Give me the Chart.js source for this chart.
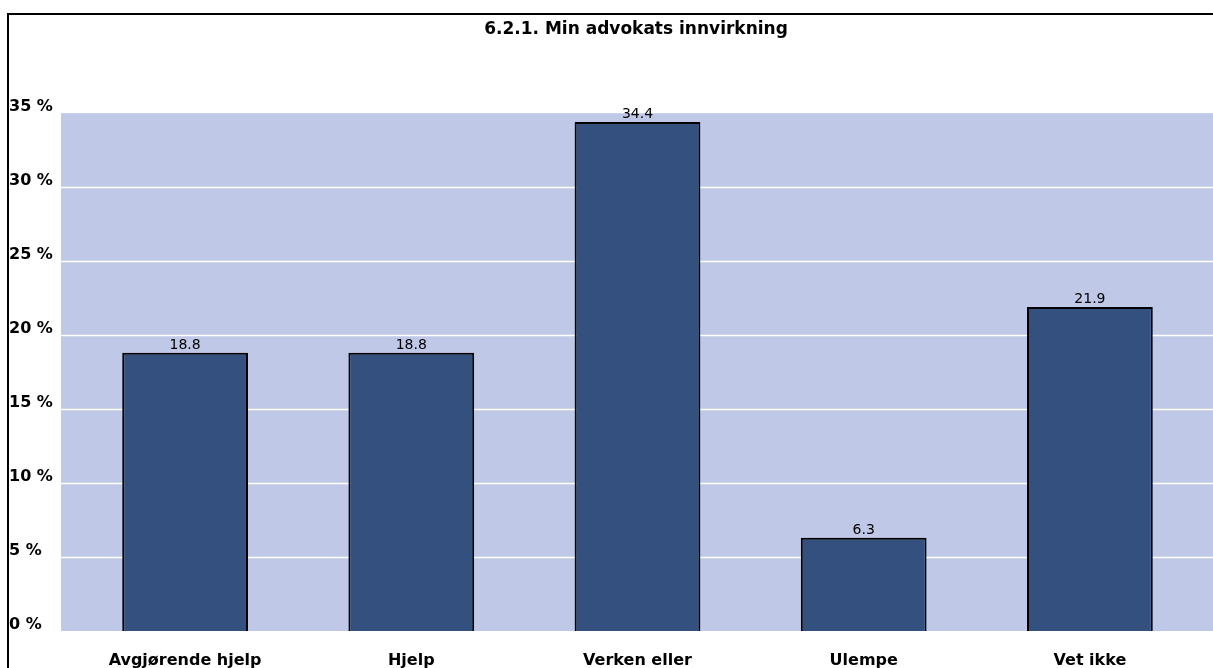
<!DOCTYPE html>
<html>
<head>
<meta charset="utf-8">
<script src="https://cdn.jsdelivr.net/npm/chart.js@4/dist/chart.umd.min.js"></script>
<style>
    html, body { margin: 0; padding: 0; overflow: hidden; background: #fff; }
    #frame {
        position: absolute; left: 7px; top: 13px;
        width: 1254px; height: 680px;
        border-left: 2px solid #000; border-top: 2px solid #000;
    }
</style>
</head>
<body>
<div id="frame"><canvas id="impactChart" width="1254" height="680"></canvas></div>
<script>
const categories = ["Avgjørende hjelp", "Hjelp", "Verken eller", "Ulempe", "Vet ikke"];
const shares = [18.8, 18.8, 34.4, 6.3, 21.9];
const yTicks = [0, 5, 10, 15, 20, 25, 30, 35];
// wide sans to get close to the stretched Excel lettering
const FONT = "'DejaVu Sans', Arial, sans-serif";

document.addEventListener("DOMContentLoaded", function () {
    const ctx = document.getElementById("impactChart").getContext("2d");

    // lavender plot area with white grid lines, a bit wider than the categories
    const plotBackground = {
        id: "plotBackground",
        beforeDatasetsDraw(chart) {
            const { ctx, chartArea, scales: { y } } = chart;
            const left = chartArea.left - 11;
            ctx.save();
            ctx.fillStyle = "#bfc8e6";
            ctx.fillRect(left, chartArea.top, chart.width - left, chartArea.bottom - chartArea.top);
            ctx.strokeStyle = "#ffffff";
            ctx.lineWidth = 1.5;
            yTicks.slice(1, -1).forEach(v => {
                const py = Math.round(y.getPixelForValue(v)) + 0.5;
                ctx.beginPath();
                ctx.moveTo(left, py);
                ctx.lineTo(chart.width, py);
                ctx.stroke();
            });
            ctx.restore();
        }
    };

    // value on top of each bar
    const valueLabels = {
        id: "valueLabels",
        afterDatasetsDraw(chart) {
            const { ctx } = chart;
            const meta = chart.getDatasetMeta(0);
            ctx.save();
            ctx.font = "14px " + FONT;
            ctx.fillStyle = "#000";
            ctx.textAlign = "center";
            ctx.textBaseline = "alphabetic";
            meta.data.forEach((bar, i) => {
                ctx.fillText(shares[i].toFixed(1), bar.x, bar.y - 4);
            });
            ctx.restore();
        }
    };

    new Chart(ctx, {
        type: "bar",
        data: {
            labels: categories,
            datasets: [{
                data: shares,
                backgroundColor: "#33507f",
                borderColor: "#000",
                borderWidth: 2,
                barPercentage: 0.556,
                categoryPercentage: 1
            }]
        },
        options: {
            responsive: false,
            animation: false,
            plugins: {
                legend: { display: false },
                tooltip: { enabled: false },
                title: {
                    display: true,
                    text: "6.2.1. Min advokats innvirkning",
                    color: "#000",
                    font: { family: FONT, size: 17, weight: "bold" },
                    padding: { top: 4.8, bottom: 73 }
                }
            },
            scales: {
                x: {
                    grid: { display: false, drawTicks: false },
                    border: { display: false },
                    ticks: {
                        color: "#000",
                        font: { family: FONT, size: 16, weight: "bold" },
                        padding: 20,
                        maxRotation: 0,
                        autoSkip: false
                    },
                    afterFit(scale) { scale.height = 64; }
                },
                y: {
                    min: 0,
                    max: 35,
                    grid: { display: false, drawTicks: false },
                    border: { display: false },
                    ticks: {
                        color: "#000",
                        font: { family: FONT, size: 16, weight: "bold" },
                        crossAlign: "far",
                        labelOffset: -6,
                        callback: v => v + " %"
                    },
                    afterBuildTicks(scale) { scale.ticks = yTicks.map(v => ({ value: v })); },
                    afterFit(scale) { scale.width = 63; }
                },
                // empty right-hand axis: keeps space on the right while the title stays centred on the full width
                yRight: {
                    position: "right",
                    min: 0,
                    max: 35,
                    grid: { display: false, drawTicks: false },
                    border: { display: false },
                    ticks: { display: false },
                    afterFit(scale) { scale.width = 60; }
                }
            }
        },
        plugins: [plotBackground, valueLabels]
    });
});
</script>
</body>
</html>
